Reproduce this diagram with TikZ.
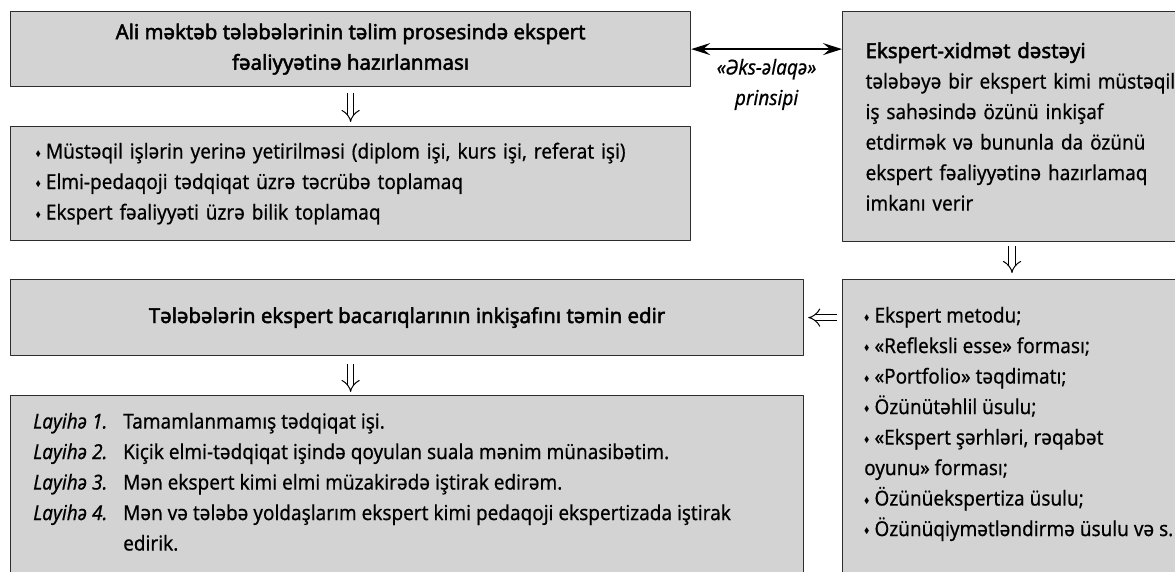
\documentclass[tikz,border=0pt]{standalone}
\usepackage{fontspec}
\usepackage{amssymb}
\setmainfont{Noto Sans}[FakeStretch=0.92, FakeBold=0.5, BoldFont=Noto Sans, BoldFeatures={FakeBold=2.2, FakeStretch=0.99}, ItalicFeatures={FakeBold=0.5}]
\usetikzlibrary{arrows.meta}
\definecolor{boxgray}{RGB}{211,211,211}
\definecolor{edgegray}{RGB}{45,45,45}
\tikzset{
  panel/.style={draw=edgegray, fill=boxgray, line width=1.2pt, inner sep=0pt, anchor=north west},
  dbl/.style={double, double distance=5.5pt, line width=1pt, -{Implies[length=10pt, width=17pt]}},
  fb/.style={line width=1.8pt, {Stealth[length=19pt, width=12pt, inset=7pt]}-{Stealth[length=19pt, width=12pt, inset=7pt]}},
}
\newcommand\bul{\raisebox{2.5pt}{\fontsize{8}{8}\selectfont$\blacklozenge$}\hspace{5pt}}
\begin{document}
\begin{tikzpicture}[x=1pt, y=-1pt, line join=round]
	\fontsize{20.6}{30.5}\selectfont
	\useasboundingbox (0,0) rectangle (1175,572);
	\clip (0,0) rectangle (1175,572);
	% left column
	\node[panel, minimum width=680, minimum height=75, align=center, font=\bfseries] (aim) at (10,11)
	{Ali məktəb tələbələrinin təlim prosesində ekspert\\fəaliyyətinə hazırlanması};
	\node[panel, minimum width=680, minimum height=114, text width=630, inner xsep=25, align=left] (skills) at (10,126)
	{\bul Müstəqil işlərin yerinə yetirilməsi (diplom işi, kurs işi, referat işi)\\
	\bul Elmi-pedaqoji tədqiqat üzrə təcrübə toplamaq\\
	\bul Ekspert fəaliyyəti üzrə bilik toplamaq};
	\node[panel, minimum width=793, minimum height=76, font=\bfseries] (result) at (10,279)
	{Tələbələrin ekspert bacarıqlarının inkişafını təmin edir};
	\node[panel, minimum width=793, minimum height=220] (projects) at (10,395) {};
	\node[anchor=north west, inner sep=0pt] (projlist) at (33,407)
	{\begin{tabular}{@{}p{90pt}@{}l@{}}
	\textit{Layihə 1.} & Tamamlanmamış tədqiqat işi.\\
	\textit{Layihə 2.} & Kiçik elmi-tədqiqat işində qoyulan suala mənim münasibətim.\\
	\textit{Layihə 3.} & Mən ekspert kimi elmi müzakirədə iştirak edirəm.\\
	\textit{Layihə 4.} & Mən və tələbə yoldaşlarım ekspert kimi pedaqoji ekspertizada iştirak\\
	 & edirik.
	\end{tabular}};
	% right column
	\node[panel, minimum width=346, minimum height=230, text width=320, inner xsep=23, align=left] (service) at (842,11)
	{\textbf{Ekspert-xidmət dəstəyi}\\tələbəyə bir ekspert kimi müstəqil\\iş sahəsində özünü inkişaf\\etdirmək və bununla da özünü\\ekspert fəaliyyətinə hazırlamaq\\imkanı verir};
	\node[panel, minimum width=346, minimum height=320] (methods) at (842,279) {};
	\node[anchor=north west, inner sep=0pt] (methlist) at (864,301)
	{\begin{tabular}{@{}l@{}}
	\bul Ekspert metodu;\\
	\bul «Refleksli esse» forması;\\
	\bul «Portfolio» təqdimatı;\\
	\bul Özünütəhlil üsulu;\\
	\bul «Ekspert şərhləri, rəqabət\\
	oyunu» forması;\\
	\bul Özünüekspertiza üsulu;\\
	\bul Özünüqiymətləndirmə üsulu və s.
	\end{tabular}};
	% connectors
	\coordinate (drop) at (1012,0);
	\draw[fb] (aim.east) -- (aim.east -| service.west)
	node[midway, below=2pt, align=center, font=\itshape] (fblabel) {«Əks-əlaqə»\\prinsipi};
	\draw[dbl, shorten <=6pt, shorten >=4pt] (aim.south) -- (skills.north);
	\draw[dbl, shorten <=4pt, shorten >=6pt] (service.south -| drop) -- (methods.north -| drop);
	\draw[dbl, shorten <=5pt, shorten >=4pt] (result.east -| methods.west) -- (result.east);
	\draw[dbl, shorten <=8pt, shorten >=3pt] (result.south -| aim.south) -- (projects.north -| aim.south);
\end{tikzpicture}
\end{document}
